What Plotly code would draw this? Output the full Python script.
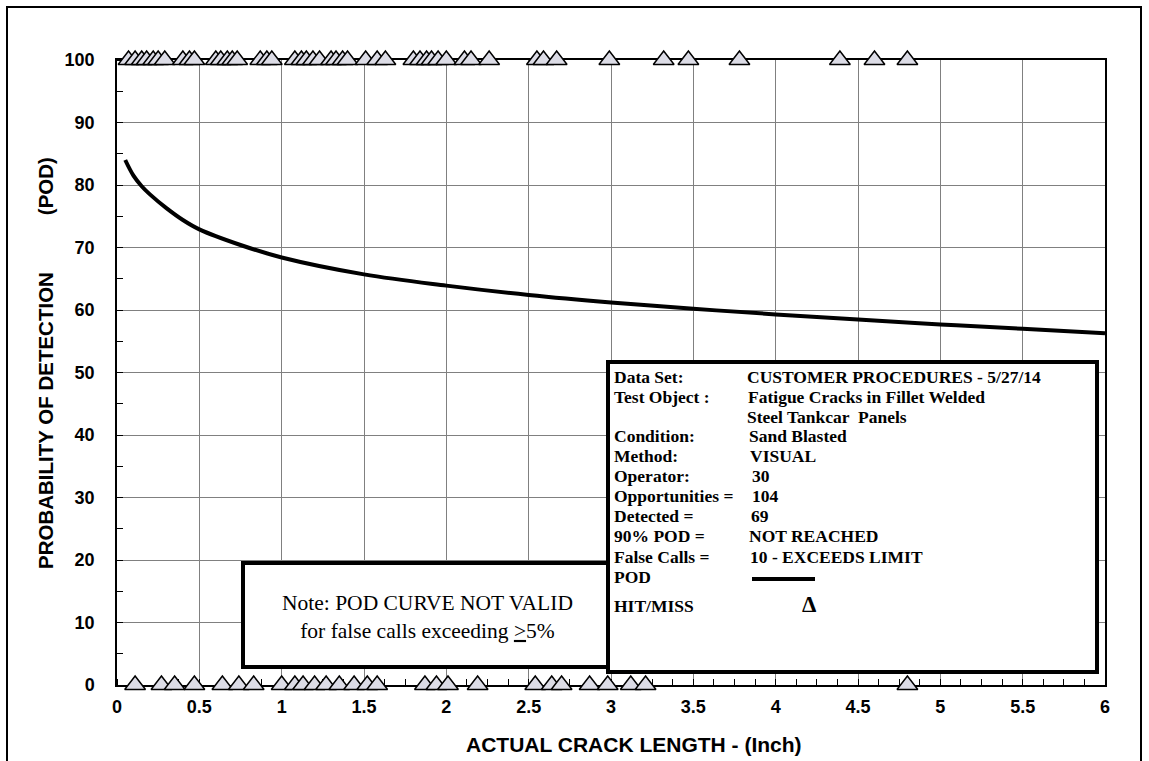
import plotly.graph_objects as go

# POD curve (crack length in inches vs probability of detection, %)
curve_x = [0.05, 0.1, 0.15, 0.2, 0.3, 0.4, 0.5, 0.75, 1.0, 1.5, 2.0, 2.5,
           3.0, 3.5, 4.0, 4.5, 5.0, 5.5, 6.0]
curve_y = [84.0, 81.5, 79.8, 78.5, 76.3, 74.4, 72.9, 70.4, 68.4, 65.7, 63.9,
           62.4, 61.2, 60.2, 59.3, 58.5, 57.7, 57.0, 56.3]

# Hit/miss results: hits plotted at 100, misses at 0
hit_x = [0.07, 0.11, 0.15, 0.18, 0.22, 0.25, 0.29, 0.40, 0.44, 0.47, 0.60,
         0.63, 0.67, 0.70, 0.73, 0.87, 0.91, 0.94, 1.08, 1.12, 1.15, 1.19,
         1.23, 1.30, 1.33, 1.37, 1.40, 1.51, 1.58, 1.63, 1.80, 1.84, 1.88,
         1.91, 1.95, 2.00, 2.11, 2.15, 2.26, 2.55, 2.59, 2.67, 2.99, 3.32,
         3.47, 3.78, 4.39, 4.60, 4.80]
hit_y = [100] * len(hit_x)
miss_x = [0.11, 0.27, 0.35, 0.47, 0.64, 0.74, 0.83, 1.00, 1.08, 1.13, 1.20,
          1.27, 1.35, 1.44, 1.52, 1.58, 1.87, 1.94, 2.01, 2.19, 2.54, 2.64,
          2.70, 2.87, 2.98, 3.12, 3.21, 4.80]
miss_y = [0] * len(miss_x)

# Axis ticks
x_ticks = [0, 0.5, 1, 1.5, 2, 2.5, 3, 3.5, 4, 4.5, 5, 5.5, 6]
x_tick_text = ["0", "0.5", "1", "1.5", "2", "2.5", "3", "3.5", "4", "4.5",
               "5", "5.5", "6"]
y_ticks = [0, 10, 20, 30, 40, 50, 60, 70, 80, 90, 100]
y_tick_text = ["0", "10", "20", "30", "40", "50", "60", "70", "80", "90", "100"]

# Summary box rows
info_labels = ["Data Set:", "Test Object :", "", "Condition:", "Method:",
               "Operator:", "Opportunities =", "Detected =", "90% POD =",
               "False Calls =", "POD", "HIT/MISS"]
info_values = ["CUSTOMER PROCEDURES - 5/27/14", "Fatigue Cracks in Fillet Welded",
               "Steel Tankcar  Panels", "Sand Blasted", "VISUAL", "30", "104",
               "69", "NOT REACHED", "10 - EXCEEDS LIMIT", "", ""]

W, H = 1149, 761
L, R, T, B = 117, 1105, 60, 685


def px(x):
    return (x - L) / (R - L)


def py(y):
    return (B - y) / (B - T)


ARIAL = "Liberation Sans, Arial, sans-serif"
TIMES = "Liberation Serif, Times New Roman, serif"

fig = go.Figure()

fig.add_trace(go.Scatter(
    x=curve_x, y=curve_y, mode="lines",
    line=dict(color="black", width=4, shape="spline", smoothing=1.0),
    hoverinfo="skip", showlegend=False))

tri = dict(symbol="triangle-up", size=18, color="#dcdce6",
           line=dict(color="black", width=1.5))
fig.add_trace(go.Scatter(x=hit_x, y=hit_y, mode="markers", marker=tri,
                         cliponaxis=False, showlegend=False))
fig.add_trace(go.Scatter(x=miss_x, y=miss_y, mode="markers", marker=tri,
                         cliponaxis=False, showlegend=False))

axis_common = dict(
    showline=True, linecolor="black", linewidth=1.5, mirror=True,
    showgrid=True, gridcolor="#808080", gridwidth=1,
    zeroline=False, ticks="", layer="below traces",
    tickfont=dict(family=ARIAL, size=18, color="black", weight="bold"),
)

fig.update_xaxes(
    range=[0, 6], tickmode="array", tickvals=x_ticks, ticktext=x_tick_text,
    ticklabelstandoff=5,
    minor=dict(dtick=0.125, ticks="inside", ticklen=6, tickcolor="black",
               tickwidth=1, showgrid=False),
    **axis_common)
fig.update_yaxes(
    range=[0, 100], tickmode="array", tickvals=y_ticks, ticktext=y_tick_text,
    ticklabelstandoff=17,
    minor=dict(dtick=5, ticks="inside", ticklen=6, tickcolor="black",
               tickwidth=1, showgrid=False),
    **axis_common)

shapes = []
# outer frame
shapes.append(dict(type="rect", xref="paper", yref="paper",
                   x0=px(7), x1=px(1141), y0=py(790), y1=py(7),
                   line=dict(color="black", width=2), layer="below"))
# note box
shapes.append(dict(type="rect", xref="paper", yref="paper",
                   x0=px(243), x1=px(610), y0=py(667), y1=py(563),
                   fillcolor="white", line=dict(color="black", width=4)))
# summary box
shapes.append(dict(type="rect", xref="paper", yref="paper",
                   x0=px(608), x1=px(1097), y0=py(672), y1=py(362),
                   fillcolor="white", line=dict(color="black", width=4)))
# POD line sample
shapes.append(dict(type="line", xref="paper", yref="paper",
                   x0=px(752), x1=px(815), y0=py(579), y1=py(579),
                   line=dict(color="black", width=4)))

annotations = []
row_y = [377, 397, 417, 436, 456, 476, 496, 516, 536, 557, 577, 606]
val_x = [745, 746, 745, 747, 748, 750, 750, 749, 747, 748, 748, 748]
for lab, val, yy, vx in zip(info_labels, info_values, row_y, val_x):
    if lab:
        annotations.append(dict(
            text=lab, x=px(612), y=py(yy), xref="paper", yref="paper",
            xanchor="left", yanchor="middle", showarrow=False,
            font=dict(family=TIMES, size=17.5, color="black", weight="bold")))
    if val:
        annotations.append(dict(
            text=val, x=px(vx), y=py(yy), xref="paper", yref="paper",
            xanchor="left", yanchor="middle", showarrow=False,
            font=dict(family=TIMES, size=17.5, color="black", weight="bold")))
annotations.append(dict(
    text="\u0394", x=px(809), y=py(604), xref="paper", yref="paper",
    xanchor="center", yanchor="middle", showarrow=False,
    font=dict(family=TIMES, size=23, color="black", weight="bold")))

annotations.append(dict(
    text="Note: POD CURVE NOT VALID<br>for false calls exceeding <u>></u>5%",
    x=px(427), y=py(617), xref="paper", yref="paper",
    xanchor="center", yanchor="middle", showarrow=False, align="center",
    font=dict(family=TIMES, size=21.5, color="black")))

annotations.append(dict(
    text="ACTUAL CRACK LENGTH - (Inch)", x=px(634), y=py(744),
    xref="paper", yref="paper", xanchor="center", yanchor="middle",
    showarrow=False,
    font=dict(family=ARIAL, size=21, color="black", weight="bold")))
annotations.append(dict(
    text="PROBABILITY OF DETECTION" + "\u00a0" * 10 + "(POD)",
    x=px(45), y=py(363), xref="paper", yref="paper",
    xanchor="center", yanchor="middle", textangle=-90, showarrow=False,
    font=dict(family=ARIAL, size=20.5, color="black", weight="bold")))

fig.update_layout(
    width=W, height=H,
    margin=dict(l=L, r=W - R, t=T, b=H - B),
    paper_bgcolor="white", plot_bgcolor="white",
    shapes=shapes, annotations=annotations, showlegend=False,
)

fig.write_html("out.html")
